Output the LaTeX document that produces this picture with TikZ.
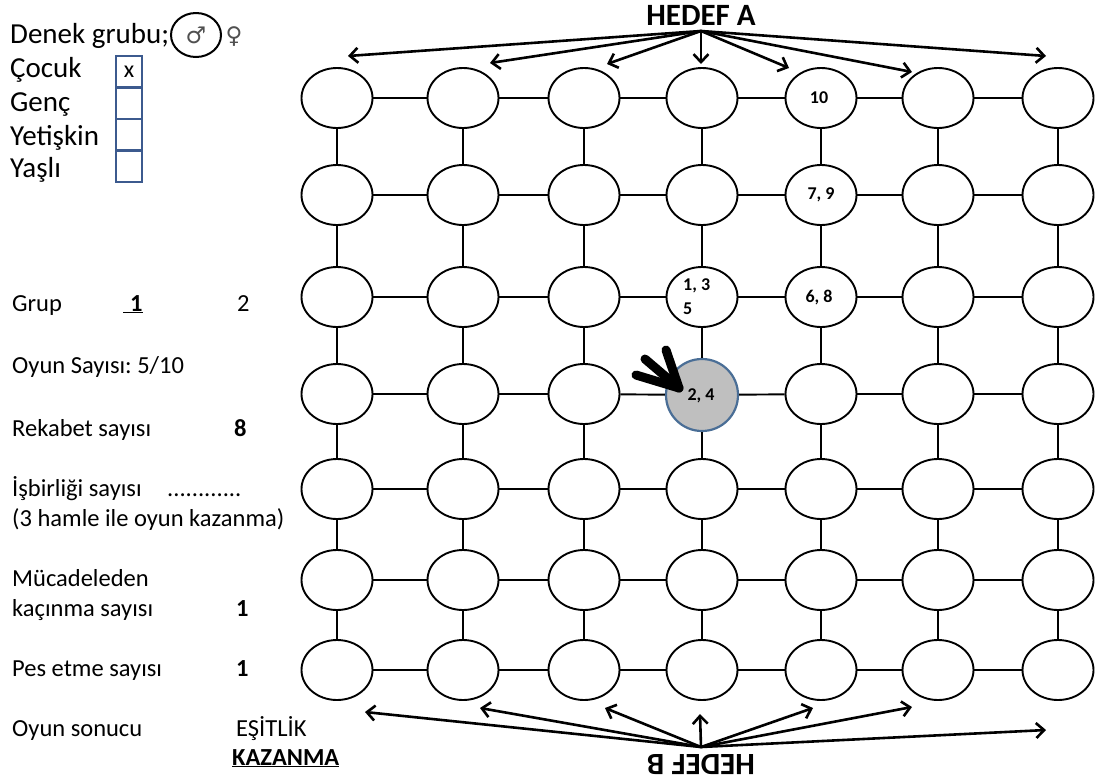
\documentclass[tikz,border=0pt]{standalone}
\usepackage{fontspec}
\setmainfont{Carlito}
\newfontfamily\symfont{DejaVu Sans}
\usetikzlibrary{arrows.meta,shapes.geometric}
\definecolor{boxblue}{HTML}{3C5A8E}
\definecolor{spotgray}{HTML}{BFBFBF}
\definecolor{spotedge}{HTML}{4A6E96}
\definecolor{symgray}{HTML}{505050}
\frenchspacing
\begin{document}
\begin{tikzpicture}[x=1pt,y=-1pt,
  spot/.style={ellipse, draw, line width=1.9pt, minimum width=71pt, minimum height=60pt, inner sep=0pt},
  tag/.style={inner sep=0pt, font=\bfseries\fontsize{18}{24}\selectfont},
  link/.style={line width=1.9pt},
  goal/.style={line width=2.6pt, -{Straight Barb[length=8pt,width=15pt,line width=2.6pt]}},
  pointer/.style={line width=9pt, line cap=round},
  big/.style={anchor=base west, inner sep=0pt, font=\fontsize{29}{32}\selectfont},
  small/.style={anchor=base west, inner sep=0pt, font=\fontsize{24.5}{28}\selectfont},
  tick/.style={draw=boxblue, line width=2.4pt, minimum width=26pt, minimum height=31.5pt, inner sep=0pt, font=\fontsize{24}{26}\selectfont},
  title/.style={inner sep=0pt, font=\bfseries\fontsize{31}{34}\selectfont}]
\useasboundingbox (0,0) rectangle (1098,780);

% ---- game board: 7 x 7 spots ----
\foreach \x [count=\c] in {337,463,584,702,821,938,1058} {
  \foreach \y [count=\r] in {98,195,297,394,489,580,670} {
    \ifnum\r\c=44 \else \node[spot] (n-\r-\c) at (\x,\y) {}; \fi
  }
}
\node[spot, circle, minimum size=72pt, fill=spotgray, draw=spotedge, line width=2.2pt] (n-4-4) at (702,395) {};

\foreach \r in {1,...,7} {
  \foreach \c [evaluate=\c as \d using int(\c+1)] in {1,...,6} {
    \draw[link] (n-\r-\c) -- (n-\r-\d);
    \draw[link] (n-\c-\r) -- (n-\d-\r);
  }
}

% ---- move numbers written in the spots ----
\node[tag] (m10) at ([xshift=-2pt]n-1-5.center) {10};
\node[tag] (m79) at (n-2-5.center) {7, 9};
\node[tag] (m68) at ([xshift=-2pt]n-3-5.center) {6, 8};
\node[tag, align=left, anchor=north west] (m135) at (683,278) {1, 3\\5};
\node[tag] (m24) at ([xshift=-1pt,yshift=-1pt]n-4-4.center) {2, 4};

% ---- hand-drawn pointer onto the grey spot ----
\coordinate (p0) at (679,388);
\coordinate (p1) at (645,359);
\coordinate (p2) at (666,350);
\coordinate (p3) at (636,375);
\draw[pointer] (p1) -- (p0);
\draw[pointer] (p2) -- (p0);
\draw[pointer] (p3) -- (p0);

% ---- goal A ----
\node[title] (hedefA) at (701,15) {HEDEF A};
\coordinate (a0) at (701,31);
\coordinate (a1) at (348,56);
\coordinate (a2) at (490,63);
\coordinate (a3) at (607,64);
\coordinate (a4) at (701,64);
\coordinate (a5) at (789,68);
\coordinate (a6) at (912,72);
\coordinate (a7) at (1046,56);
\foreach \i in {1,...,7} \draw[goal] (a0) -- (a\i);

% ---- goal B ----
\node[title, rotate=180] (hedefB) at (701,765) {HEDEF B};
\coordinate (b0) at (701,747);
\coordinate (b1) at (365,712);
\coordinate (b2) at (480,708);
\coordinate (b3) at (605,708);
\coordinate (b4) at (700,714);
\coordinate (b5) at (813,708);
\coordinate (b6) at (912,707);
\coordinate (b7) at (1046,730);
\foreach \i in {1,...,7} \draw[goal] (b0) -- (b\i);

% ---- subject group ----
\node[big] (denek) at (10,43) {Denek grubu;};
\node[draw, ellipse, line width=2pt, minimum width=50pt, minimum height=44pt, inner sep=0pt,
      text=symgray, font=\symfont\fontsize{23}{25}\selectfont] (male) at (196,35) {♂};
\node[inner sep=0pt, text=symgray, font=\symfont\fontsize{23}{25}\selectfont] (female) at (234,37) {♀};

\node[big] (cocuk) at (10,77) {Çocuk};
\node[big] (genc) at (10,111) {Genç};
\node[big] (yetiskin) at (10,145) {Yetişkin};
\node[big] (yasli) at (10,177) {Yaşlı};
\node[tick] (c1) at (129,71.75) {x};
\node[tick] (c2) at (129,103.25) {};
\node[tick] (c3) at (129,134.75) {};
\node[tick] (c4) at (129,166.25) {};

% ---- session record ----
\node[small] (grup) at (12,311) {Grup};
\node[small] (grup1) at (123,311) {\underline{\hspace{7pt}\textbf{1}}};
\node[small] (grup2) at (237,311) {2};
\node[small] (oyun) at (12,373) {Oyun Sayısı: 5/10};
\node[small] (rekabet) at (12,436) {Rekabet sayısı};
\node[small] (rekabetN) at (234,436) {\textbf{8}};
\node[small] (isbirligi) at (12,496) {İşbirliği sayısı};
\node[small] (isbirligiN) at (167,496) {............};
\node[small] (hamle) at (12,526) {(3 hamle ile oyun kazanma)};
\node[small] (mucadele) at (12,586) {Mücadeleden};
\node[small] (kacinma) at (12,616) {kaçınma sayısı};
\node[small] (kacinmaN) at (236,616) {\textbf{1}};
\node[small] (pes) at (12,676) {Pes etme sayısı};
\node[small] (pesN) at (236,676) {\textbf{1}};
\node[small] (sonuc) at (12,736) {Oyun sonucu};
\node[small] (esitlik) at (236,736) {EŞİTLİK};
\node[small] (kazanma) at (232,765) {\underline{\textbf{KAZANMA}}};
\end{tikzpicture}
\end{document}
